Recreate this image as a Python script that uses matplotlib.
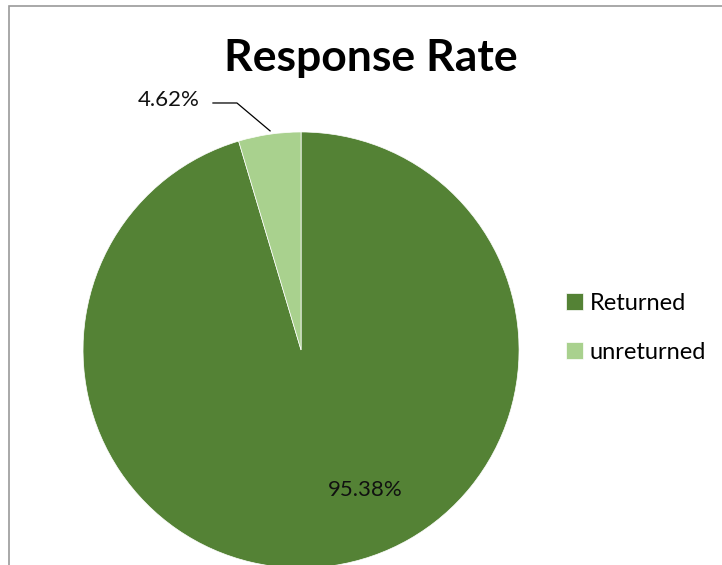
import matplotlib.pyplot as plt
from matplotlib.patches import Rectangle

# Data
labels = ['Returned', 'unreturned']
shares = [95.38, 4.62]
colors = ['#548235', '#A9D18E']

plt.rcParams['font.family'] = ['Lato', 'DejaVu Sans']

fig = plt.figure(figsize=(7.22, 5.65), dpi=100)
ax = fig.add_axes([0.115, -0.0053, 0.6039, 0.7717])

wedges, _ = ax.pie(shares, colors=colors, startangle=90, counterclock=False,
                   radius=1, wedgeprops=dict(edgecolor='white', linewidth=0.5))
ax.set_xlim(-1, 1)
ax.set_ylim(-1, 1)
ax.set_aspect('equal')
ax.axis('off')

# data labels
ax.text(0.294, -0.642, f'{shares[0]:.2f}%', ha='center', va='center', fontsize=16, color='#111111')
ax.text(-0.463, 1.147, f'{shares[1]:.2f}%', ha='right', va='center', fontsize=16, color='#111111')
# leader line for the small slice
ax.plot([-0.404, -0.294, -0.142], [1.133, 1.133, 1.005], color='black', lw=0.9, clip_on=False)

fig.text(0.514, 0.897, 'Response Rate', ha='center', va='center',
         fontsize=32, fontweight='bold')

fig.legend(wedges, labels, loc='center left', bbox_to_anchor=(0.755, 0.42),
           frameon=False, fontsize=17, handlelength=0.7, handleheight=0.7,
           handletextpad=0.3, labelspacing=1.2)

# chart border
fig.add_artist(Rectangle((9 / 722, -0.1), 1.2, 1 - 6 / 565 + 0.1,
                         transform=fig.transFigure, fill=False,
                         edgecolor='#9a9a9a', linewidth=1.2))

fig.savefig('out.png', dpi=100)
